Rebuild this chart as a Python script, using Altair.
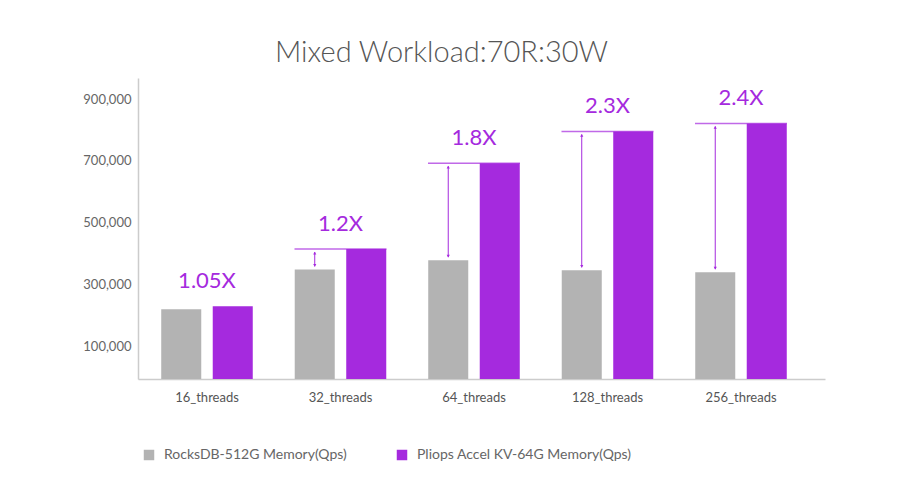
import altair as alt
import pandas as pd

categories = ["16_threads", "32_threads", "64_threads", "128_threads", "256_threads"]
rocksdb = [226000, 355000, 385000, 352000, 346000]
pliops = [236000, 421000, 699000, 802000, 828000]
ratio_labels = ["1.05X", "1.2X", "1.8X", "2.3X", "2.4X"]
show_arrow = [False, True, True, True, True]
series_names = ["RocksDB-512G Memory(Qps)", "Pliops Accel KV-64G Memory(Qps)"]
y_ticks = [100000, 300000, 500000, 700000, 900000]

GRAY = "#b3b3b3"
PURPLE = "#a52ade"
FONT = "Lato"

long_rows = []
for c, r, p in zip(categories, rocksdb, pliops):
    long_rows.append({"category": c, "series": series_names[0], "value": r})
    long_rows.append({"category": c, "series": series_names[1], "value": p})
bars_df = pd.DataFrame(long_rows)

wide_df = pd.DataFrame({
    "category": categories,
    "series": [series_names[0]] * len(categories),
    "lo": rocksdb,
    "hi": pliops,
    "label": ratio_labels,
    "show": show_arrow,
})
arrow_df = wide_df[wide_df["show"]]

x_enc = alt.X("category:N", sort=categories,
              scale=alt.Scale(paddingInner=0, paddingOuter=0.073, align=0.115),
              axis=alt.Axis(title=None, labelAngle=0, ticks=False, labelPadding=12,
                            labelFontSize=13, labelColor="#555555", labelFont=FONT,
                            domainColor="#cccccc", domainWidth=1.5))
xo_enc = alt.XOffset("series:N", sort=series_names,
                     scale=alt.Scale(paddingInner=0.223, paddingOuter=0.4075))
y_scale = alt.Scale(domain=[0, 975000], nice=False)

bars = alt.Chart(bars_df).mark_bar().encode(
    x=x_enc,
    xOffset=xo_enc,
    y=alt.Y("value:Q", scale=y_scale,
            axis=alt.Axis(title=None, values=y_ticks, format=",.0f", grid=False, ticks=False,
                          labelPadding=7, labelFontSize=13, labelColor="#666666",
                          labelFont=FONT, labelOffset=-2,
                          domainColor="#cccccc", domainWidth=1.5)),
    color=alt.Color("series:N", sort=series_names,
                    scale=alt.Scale(domain=series_names, range=[GRAY, PURPLE]),
                    legend=alt.Legend(title=None, orient="none", direction="horizontal",
                                      legendX=4, legendY=370, symbolType="square",
                                      symbolSize=110, symbolStrokeWidth=0,
                                      labelFontSize=14, labelColor="#666666",
                                      labelFont=FONT, labelOffset=8, columnPadding=48,
                                      labelLimit=400)),
)

line = alt.Chart(arrow_df).mark_tick(size=92, thickness=1.5, color=PURPLE).encode(
    x=alt.X("category:N", sort=categories),
    y=alt.Y("hi:Q", scale=y_scale),
)

shaft = alt.Chart(arrow_df).mark_rule(color=PURPLE, strokeWidth=1, yOffset=-3, y2Offset=3).encode(
    x=alt.X("category:N", sort=categories),
    xOffset=alt.XOffset("series:N", sort=series_names),
    y=alt.Y("lo:Q", scale=y_scale),
    y2="hi:Q",
)

head_top = alt.Chart(arrow_df).mark_point(shape="triangle-up", filled=True, size=10,
                                           color=PURPLE, opacity=1, yOffset=4).encode(
    x=alt.X("category:N", sort=categories),
    xOffset=alt.XOffset("series:N", sort=series_names),
    y=alt.Y("hi:Q", scale=y_scale),
)

head_bot = alt.Chart(arrow_df).mark_point(shape="triangle-down", filled=True, size=10,
                                           color=PURPLE, opacity=1, yOffset=-4).encode(
    x=alt.X("category:N", sort=categories),
    xOffset=alt.XOffset("series:N", sort=series_names),
    y=alt.Y("lo:Q", scale=y_scale),
)

labels = alt.Chart(wide_df).mark_text(dy=-25, fontSize=22, font=FONT, color=PURPLE,
                                      baseline="middle").encode(
    x=alt.X("category:N", sort=categories),
    y=alt.Y("hi:Q", scale=y_scale),
    text="label:N",
)

chart = alt.layer(bars, line, shaft, head_top, head_bot, labels).properties(
    width=687,
    height=301,
    background="white",
    padding={"left": 130, "top": 70, "right": 60, "bottom": 110},
    autosize=alt.AutoSizeParams(type="none"),
    title=alt.TitleParams(text="Mixed Workload:70R:30W", fontSize=29, font=FONT,
                          fontWeight=300, color="#555555", anchor="middle",
                          baseline="alphabetic", offset=15, dx=-40, dy=28),
).configure_view(strokeWidth=0, stroke="transparent")

chart.save("out.html", embed_options={"renderer": "svg", "actions": False})
